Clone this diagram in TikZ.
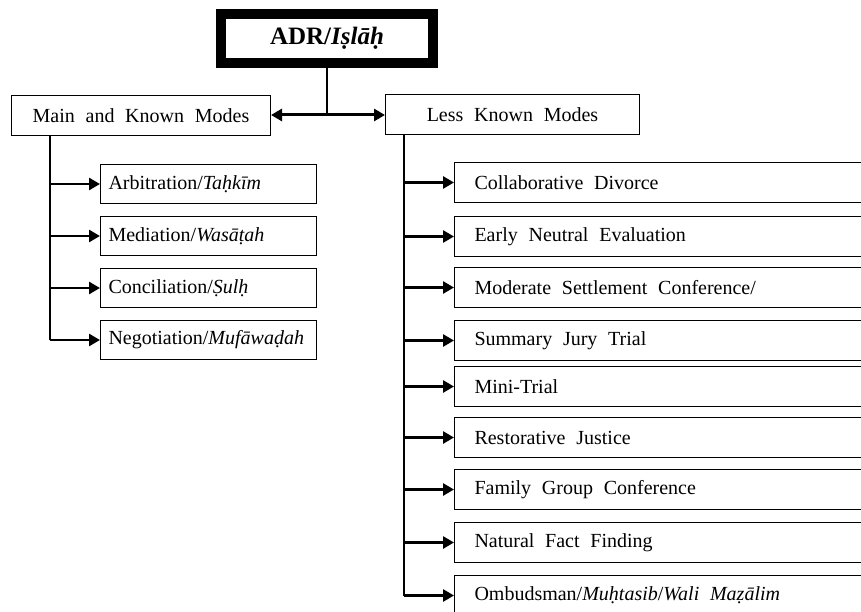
\documentclass[tikz,border=0pt]{standalone}
\usepackage{fontspec}
\setmainfont{Liberation Serif}
\newfontfamily\widefam[WordSpace={2.15,0,0}]{Liberation Serif}
\usetikzlibrary{arrows.meta,calc}
\hbadness=10000
\begin{document}
\begin{tikzpicture}[x=1pt,y=-1pt,
  basefont/.style={font={\fontsize{20}{23}\selectfont}},
  widefont/.style={font={\widefam\fontsize{20}{23}\selectfont}},
  headbox/.style={draw=black,line width=1pt,minimum height=40pt,inner sep=0pt,anchor=north west,widefont},
  leftbox/.style={draw=black,line width=1pt,minimum height=39pt,inner ysep=0pt,inner xsep=8pt,text width=200pt,align=left,anchor=north west,basefont},
  rightbox/.style={draw=black,line width=1pt,minimum height=40pt,inner ysep=0pt,inner xsep=20pt,text width=480pt,align=left,anchor=north west,widefont,
    execute at begin node={\spaceskip=0pt\xspaceskip=0pt\rightskip=0pt plus 1fil\relax}},
  trunk/.style={draw=black,line width=1.5pt},
  arr/.style={draw=black,line width=2.6pt,-{Triangle[length=11pt,width=12pt]}},
  dblarr/.style={draw=black,line width=3pt,{Triangle[length=11pt,width=12pt]}-{Triangle[length=11pt,width=12pt]}}
]
\useasboundingbox (0,0) rectangle (861,612);
\clip (0,0) rectangle (861,612);
% title
\node[draw=black,line width=10pt,minimum width=212pt,minimum height=49pt,inner sep=0pt,
      font={\fontsize{25}{28}\selectfont\bfseries}] (adr) at (327,38.5) {ADR/\textit{Iṣlāḥ}};
% main categories
\node[headbox,minimum width=259pt] (main) at (11,95) {Main and Known Modes};
\node[headbox,minimum width=254pt] (less) at (385,94) {Less Known Modes};
\coordinate (j) at (adr.south |- 0,115);
\draw[trunk] (adr.south) -- (j);
\draw[dblarr] (main.east |- j) -- (less.west |- j);
% left children
\node[leftbox] (arb) at (100,164) {Arbitration/\textit{Taḥkīm}};
\node[leftbox] (med) at (100,216) {Mediation/\textit{Wasāṭah}};
\node[leftbox] (con) at (100,268) {Conciliation/\textit{Ṣulḥ}};
\node[leftbox] (neg) at (100,320) {Negotiation/\textit{Mufāwaḍah}};
\coordinate (lt) at ($(main.south west)+(39,0)$);
\draw[trunk] (lt) -- (lt |- neg.west);
\foreach \n in {arb,med,con,neg}{\draw[arr] (lt |- \n.west) -- (\n.west);}
% right children
\node[rightbox] (cd) at (454,162) {Collaborative Divorce};
\node[rightbox] (ene) at (454,216) {Early Neutral Evaluation};
\node[rightbox] (msc) at (454,267) {Moderate Settlement Conference/};
\node[rightbox] (sjt) at (454,320) {Summary Jury Trial};
\node[rightbox] (mt) at (454,366) {Mini-Trial};
\node[rightbox] (rj) at (454,417) {Restorative Justice};
\node[rightbox] (fgc) at (454,469) {Family Group Conference};
\node[rightbox] (nff) at (454,522) {Natural Fact Finding};
\node[rightbox] (omb) at (454,575) {Ombudsman/\textit{Muḥtasib}/\textit{Wali Maẓālim}};
\coordinate (rt) at ($(less.south west)+(19,0)$);
\draw[trunk] (rt) -- (rt |- omb.west);
\foreach \n in {cd,ene,msc,sjt,mt,rj,fgc,nff,omb}{\draw[arr] (rt |- \n.west) -- (\n.west);}
\end{tikzpicture}
\end{document}
